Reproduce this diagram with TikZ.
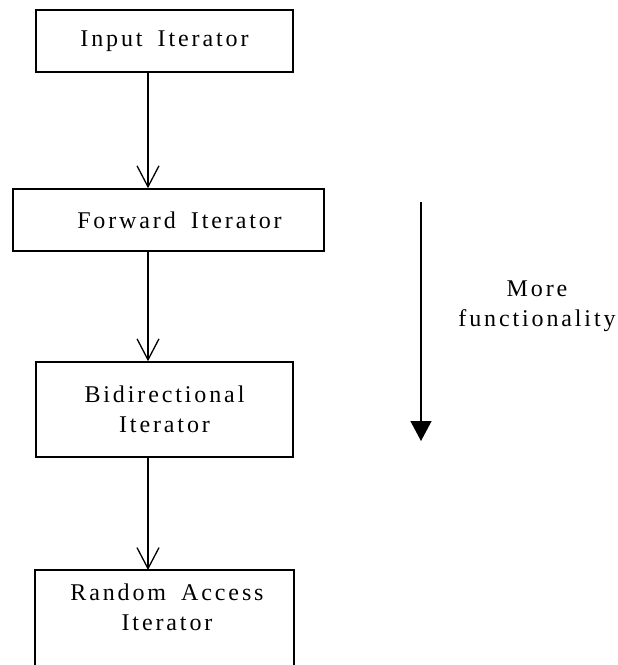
\documentclass[tikz,border=0pt]{standalone}
\usepackage{fontspec}
\setmainfont{Liberation Serif}[LetterSpace=12, WordSpace=1.7]
\usepackage{tikz}
\usetikzlibrary{arrows.meta,positioning}
\tikzset{
  itbox/.style={draw=black, line width=1.6pt, align=center, inner sep=0pt,
                font=\fontsize{24}{30}\selectfont},
  itarr/.style={-{Straight Barb[length=21pt,width=22pt]}, line width=1.3pt},
  morearr/.style={-{Triangle[length=20pt,width=21pt]}, line width=1.3pt}
}

\begin{document}
\begin{tikzpicture}[x=1pt, y=-1pt]
\useasboundingbox (0,0) rectangle (618,665);
% iterator boxes (top to bottom)
\node[itbox, minimum width=257pt, minimum height=62pt] (inp) at (164.5,41) {Input Iterator};
\node[itbox, minimum width=311pt, minimum height=62pt] (fwd) at (168.5,220) {\hspace*{22pt}Forward Iterator};
\node[itbox, minimum width=257pt, minimum height=95pt] (bid) at (164.5,409.5) {Bidirectional\\Iterator};
% last box runs off the page: no bottom edge
\node[itbox, draw=none, minimum width=257pt, minimum height=95pt, anchor=north] (rnd) at (164.5,570) {};
\node[font=\fontsize{24}{30}\selectfont, align=center, anchor=north, inner sep=0pt] (rndtxt) at (167,584) {Random Access\\Iterator};
\draw[line width=1.6pt] (rnd.south west) |- (rnd.north east) -- (rnd.south east);
% arrows down the left column
\coordinate (spine) at (148,0);
\draw[itarr] (inp.south -| spine) -- (fwd.north -| spine);
\draw[itarr] (fwd.south -| spine) -- (bid.north -| spine);
\draw[itarr] (bid.south -| spine) -- (rnd.north -| spine);
% side arrow
\coordinate (mtop) at (421,202);
\coordinate (mbot) at (421,441);
\draw[morearr] (mtop) -- (mbot);
\node[font=\fontsize{24}{30}\selectfont, align=center, inner sep=0pt] (more) at (537,306) {More\\functionality};
\end{tikzpicture}
\end{document}
